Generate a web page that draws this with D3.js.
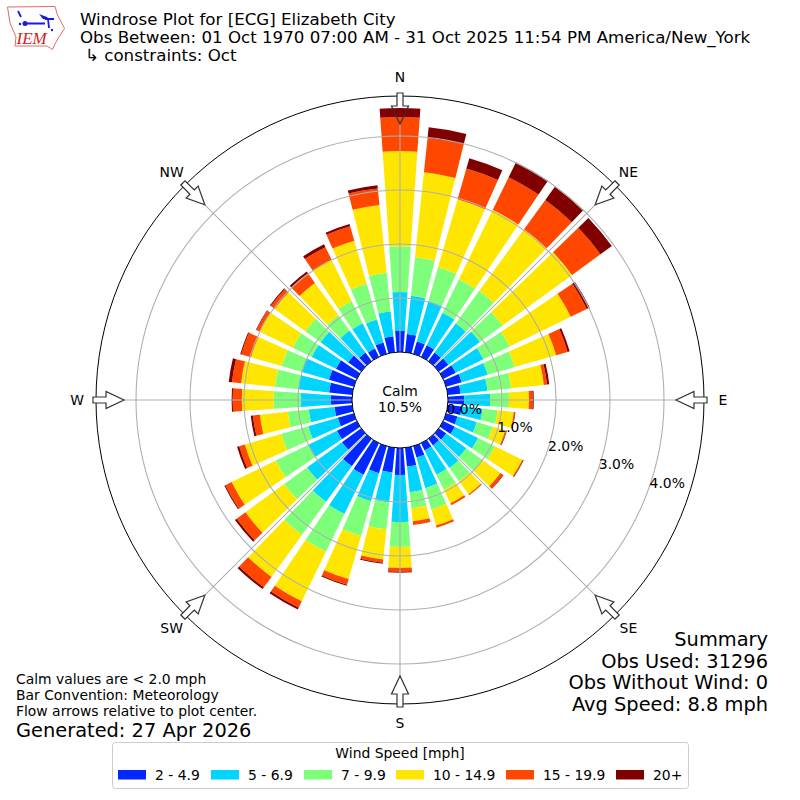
<!DOCTYPE html>
<html>
<head>
<meta charset="utf-8">
<script src="https://cdn.jsdelivr.net/npm/d3@7"></script>
<style>
  html, body { margin: 0; padding: 0; background: #fff; }
  text { font-family: "DejaVu Sans", sans-serif; fill: #000; }
</style>
</head>
<body>
<script>
// direction bins, degrees clockwise from north
const directions = d3.range(0, 360, 10);
const speedBins = ["2 - 4.9", "5 - 6.9", "7 - 9.9", "10 - 14.9", "15 - 19.9", "20+"];
const binColors = ["#0028ff", "#00d4ff", "#7dff7a", "#ffe600", "#ff4700", "#800000"];

// frequency [%] per direction for each speed bin
const bin2to5 = [.39,.34,.24,.24,.20,.22,.26,.30,.24,.30,.26,.22,.24,.17,.15,.15,.22,.35,.50,.46,.52,.65,.63,.44,.41,.31,.33,.39,.43,.48,.43,.30,.20,.17,.22,.30];
const bin5to7 = [.72,.71,.78,.67,.67,.72,.57,.50,.50,.48,.39,.37,.48,.46,.52,.50,.59,.48,.87,.56,.54,.81,.81,.80,.59,.57,.48,.56,.57,.52,.50,.63,.50,.52,.44,.46];
const bin7to10 = [.85,.72,.65,.69,.74,.52,.54,.52,.44,.35,.28,.31,.35,.37,.30,.31,.41,.30,.46,.50,.67,.78,.76,.52,.67,.52,.39,.50,.44,.39,.39,.35,.35,.46,.69,.72];
const bin10to15 = [1.76,1.58,1.31,1.43,1.41,1.59,1.26,.80,.61,.37,.30,.24,.56,.41,.30,.28,.31,.24,.39,.56,.83,1.02,.96,.89,.91,.70,.52,.59,.63,.59,.69,.70,.74,.85,.83,1.26];
const bin15to20 = [.63,.64,.59,.67,.67,.65,.33,.22,.06,.07,.02,.02,.02,.06,.02,.04,.04,.07,.07,.06,.11,.13,.24,.20,.13,.11,.13,.17,.17,.19,.06,.09,.22,.26,.28,.31];
const bin20up = [.17,.20,.20,.31,.30,.26,.06,.04,.04,.02,.01,.01,.01,.01,0,0,0,0,.02,.02,.02,.04,.04,.04,.02,.04,.04,.02,.06,.02,.01,.02,.04,.06,.04,.06];
const binValues = [bin2to5, bin5to7, bin7to10, bin10to15, bin15to20, bin20up];

const ringTicks = [0, 1, 2, 3, 4];
const compass = [["N",0],["NE",45],["E",90],["SE",135],["S",180],["SW",225],["W",270],["NW",315]];

const titleLines = ["Windrose Plot for [ECG] Elizabeth City",
  "Obs Between: 01 Oct 1970 07:00 AM - 31 Oct 2025 11:54 PM America/New_York"];
const constraintLine = "\u21b3 constraints: Oct";
const summaryLines = ["Summary", "Obs Used: 31296", "Obs Without Wind: 0", "Avg Speed: 8.8 mph"];
const noteLines = ["Calm values are < 2.0 mph", "Bar Convention: Meteorology", "Flow arrows relative to plot center."];
const generated = "Generated: 27 Apr 2026";
const calmLines = ["Calm", "10.5%"];

const width = 800, height = 800;
const cx = 400, cy = 400;
const outerR = 304;
const arrowTip = 276;

const svg = d3.select("body").append("svg")
  .attr("width", width)
  .attr("height", height)
  .style("display", "block");

const plot = svg.append("g").attr("transform", "translate(" + cx + "," + cy + ")");

// radius scale: bars sit on top of the calm hole
const r = d3.scaleLinear().domain([0, 1]).range([48, 102]);
const rad = d3.scaleLinear().domain([0, 360]).range([0, 2 * Math.PI]);
const barHalf = rad(4);

function polar(deg, dist) {
  return [dist * Math.sin(rad(deg)), -dist * Math.cos(rad(deg))];
}

// stack the bins per direction
const table = directions.map(function (d, i) {
  const row = { dir: d };
  speedBins.forEach(function (b, j) { row[b] = binValues[j][i]; });
  return row;
});
const layers = d3.stack().keys(speedBins)(table);

const arc = d3.arc();

plot.append("circle").attr("r", outerR).attr("fill", "none").attr("stroke", "#000").attr("stroke-width", 1);

const bars = plot.append("g").attr("id", "bars");
layers.forEach(function (layer, j) {
  bars.selectAll(null)
    .data(layer)
    .enter()
    .append("path")
    .attr("fill", binColors[j])
    .attr("d", function (d) {
      return arc({
        innerRadius: r(d[0]),
        outerRadius: r(d[1]),
        startAngle: rad(d.data.dir) - barHalf,
        endAngle: rad(d.data.dir) + barHalf
      });
    });
});

// grid goes over the bars
const grid = plot.append("g").attr("id", "grid");
grid.selectAll(".ring")
  .data(ringTicks.slice(1))
  .enter()
  .append("circle")
  .attr("class", "ring")
  .attr("r", function (d) { return r(d); })
  .attr("fill", "none")
  .attr("stroke", "#b0b0b0")
  .attr("stroke-width", 1.1);

grid.selectAll(".spoke")
  .data(compass)
  .enter()
  .append("line")
  .attr("class", "spoke")
  .attr("x1", function (d) { return polar(d[1], r(0))[0]; })
  .attr("y1", function (d) { return polar(d[1], r(0))[1]; })
  .attr("x2", function (d) { return polar(d[1], arrowTip)[0]; })
  .attr("y2", function (d) { return polar(d[1], arrowTip)[1]; })
  .attr("stroke", "#b0b0b0")
  .attr("stroke-width", 1.1);

plot.append("circle").attr("r", r(0)).attr("fill", "#fff").attr("stroke", "#000").attr("stroke-width", 1);

// flow arrows, drawn for north then rotated
const arrows = plot.selectAll(".arrow")
  .data(compass)
  .enter()
  .append("g")
  .attr("class", "arrow")
  .attr("transform", function (d) { return "rotate(" + d[1] + ")"; });

arrows.append("rect")
  .attr("x", -3).attr("y", -307).attr("width", 6).attr("height", 14)
  .attr("fill", "#fff");
arrows.append("path")
  .attr("d", "M-3,-307L3,-307L3,-294L8.5,-294L0,-" + arrowTip + "L-8.5,-294L-3,-294Z")
  .attr("fill", "none")
  .attr("stroke", "#333")
  .attr("stroke-width", 1.2);

plot.selectAll(".compass")
  .data(compass)
  .enter()
  .append("text")
  .attr("class", "compass")
  .attr("x", function (d) { return polar(d[1], 323)[0]; })
  .attr("y", function (d) { return polar(d[1], 323)[1]; })
  .attr("dy", "0.36em")
  .attr("text-anchor", "middle")
  .style("font-size", "13.9px")
  .text(function (d) { return d[0]; });

plot.selectAll(".rlabel")
  .data(ringTicks)
  .enter()
  .append("text")
  .attr("class", "rlabel")
  .attr("x", function (d) { return polar(110, r(d))[0] + 1.5; })
  .attr("y", function (d) { return polar(110, r(d))[1] - 2.5; })
  .style("font-size", "13.9px")
  .text(function (d) { return d.toFixed(1) + "%"; });

plot.selectAll(".calm")
  .data(calmLines)
  .enter()
  .append("text")
  .attr("class", "calm")
  .attr("y", function (d, i) { return -4 + i * 16; })
  .attr("text-anchor", "middle")
  .style("font-size", "13.9px")
  .text(function (d) { return d; });

// header
svg.selectAll(".title")
  .data(titleLines)
  .enter()
  .append("text")
  .attr("class", "title")
  .attr("x", 80)
  .attr("y", function (d, i) { return 25 + i * 17.7; })
  .style("font-size", "16.67px")
  .text(function (d) { return d; });
svg.append("text").attr("x", 85).attr("y", 61).style("font-size", "16.67px").text(constraintLine);

// logo
const logo = svg.append("g").attr("id", "logo");
logo.append("path")
  .attr("d", "M7.5,7L55,6.500L57.500,15L64.500,28.500L58,38.500L55,44L52.500,49.500L47,46L15,46L16,37L10,23Z")
  .attr("fill", "#fff")
  .attr("stroke", "#e06a6a")
  .attr("stroke-width", 1);
logo.append("path")
  .attr("d", "M25,23.500L45,23.500M45,19L54,19M48,19L49,28M18,11L21,17")
  .attr("fill", "none")
  .attr("stroke", "#1a1adf")
  .attr("stroke-width", 1.8);
logo.append("path").attr("d", "M39,14L47,17L50,20L43,19Z").attr("fill", "#1a1adf");
logo.append("circle").attr("cx", 25).attr("cy", 23.5).attr("r", 2.5).attr("fill", "#1a1adf");
logo.append("circle").attr("cx", 20).attr("cy", 24).attr("r", 1.2).attr("fill", "#1a1adf");
logo.append("circle").attr("cx", 52).attr("cy", 30).attr("r", 1.2).attr("fill", "#1a1adf");
logo.append("text")
  .attr("x", 16.5).attr("y", 44)
  .style("font-family", "'Liberation Serif', serif")
  .style("font-style", "italic")
  .style("font-size", "17px")
  .style("fill", "#d62020")
  .text("IEM");

// summary block, lower right
svg.selectAll(".summary")
  .data(summaryLines)
  .enter()
  .append("text")
  .attr("class", "summary")
  .attr("x", 768)
  .attr("y", function (d, i) { return 646 + i * 21.7; })
  .attr("text-anchor", "end")
  .style("font-size", "19.4px")
  .text(function (d) { return d; });

// notes, lower left
svg.selectAll(".note")
  .data(noteLines)
  .enter()
  .append("text")
  .attr("class", "note")
  .attr("x", 16)
  .attr("y", function (d, i) { return 684 + i * 16.2; })
  .style("font-size", "13.9px")
  .text(function (d) { return d; });
svg.append("text").attr("x", 16).attr("y", 737).style("font-size", "19.4px").text(generated);

// legend
const legend = svg.append("g").attr("id", "legend");
legend.append("rect")
  .attr("x", 112.5).attr("y", 742.5).attr("width", 576).attr("height", 46).attr("rx", 3)
  .attr("fill", "#fff").attr("stroke", "#ccc");
legend.append("text")
  .attr("x", 400).attr("y", 758)
  .attr("text-anchor", "middle")
  .style("font-size", "13.9px")
  .text("Wind Speed [mph]");

const swatchX = [118, 211, 304, 396, 506, 616];
const items = legend.selectAll(".item")
  .data(speedBins)
  .enter()
  .append("g")
  .attr("class", "item")
  .attr("transform", function (d, i) { return "translate(" + swatchX[i] + ",770)"; });
items.append("rect")
  .attr("width", 28).attr("height", 9.5)
  .attr("fill", function (d, i) { return binColors[i]; });
items.append("text")
  .attr("x", 37).attr("y", 10)
  .style("font-size", "13.9px")
  .text(function (d) { return d; });
</script>
</body>
</html>
